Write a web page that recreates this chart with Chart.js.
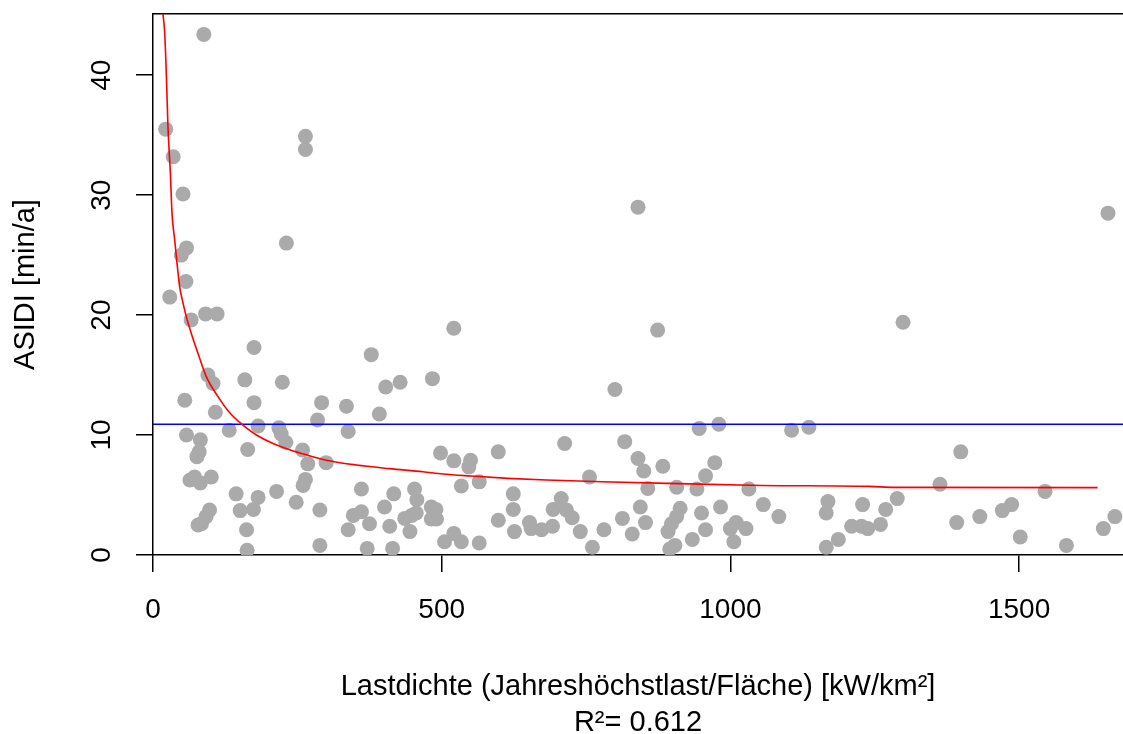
<!DOCTYPE html>
<html><head><meta charset="utf-8">
<script src="https://cdn.jsdelivr.net/npm/chart.js@4"></script>
<style>html,body{margin:0;padding:0;background:#fff;}canvas{display:block;}</style>
</head><body>
<canvas id="c" width="1123" height="734"></canvas>
<script>
// ---- data ----
const pointX = [88,22,35,264,264,52,231,58,49,57,840,1654,
  29,66,91,111,175,378,95,104,159,224,403,55,175,292,335,108,392,285,182,132,218,222,230,338,58,82,80,76,164,259,268,300,64,72,82,101,264,260,361,144,182,174,151,214,248,289,401,98,92,84,78,347,361,375,338,162,289,163,371,410,
  521,428,484,800,713,817,498,521,550,547,598,756,534,565,417,453,457,482,490,436,448,456,482,491,445,624,624,598,626,652,655,673,692,707,693,716,726,740,781,813,761,505,521,534,565,415,
  874,946,980,1106,1136,840,850,883,973,957,857,907,942,1032,844,853,830,913,907,898,892,904,895,950,957,934,983,1000,1010,1027,1006,1057,1084,1169,1166,1229,1166,1187,1210,1227,1238,
  1299,1399,1363,1545,1289,1269,1260,1392,1432,1471,1487,1502,1582,1646,1666];
const pointY = [43.4,35.5,33.2,34.9,33.8,30.1,26.0,25.6,25.0,22.8,29.0,28.5,
  21.5,19.6,20.1,20.1,17.3,16.7,15.0,14.3,14.6,14.4,14.0,12.9,12.7,12.7,12.4,11.9,11.75,11.25,10.75,10.4,10.6,10.1,9.4,10.3,10.0,9.6,8.6,8.2,8.8,8.75,7.6,7.7,6.25,6.5,6.0,6.5,6.3,5.8,5.5,5.1,4.8,3.8,3.7,5.3,4.4,3.75,4.0,3.75,3.2,2.6,2.5,3.3,3.6,2.6,2.1,2.1,0.8,0.4,0.55,2.4,
  18.9,14.4,14.7,13.8,9.3,9.45,8.5,7.85,7.9,7.35,8.6,6.5,5.75,6.1,5.1,5.5,4.6,4.0,3.8,3.05,3.3,3.5,3.0,3.0,1.95,5.1,3.8,2.9,1.95,2.7,2.2,2.1,2.4,4.7,3.8,3.75,3.1,1.95,2.1,3.05,0.65,1.1,1.8,1.1,1.0,0.55,
  18.75,10.55,10.9,10.4,10.65,8.05,7.0,7.4,7.7,6.6,5.55,5.65,5.5,5.5,4.0,2.7,1.75,3.9,3.2,2.6,1.95,0.8,0.5,3.5,2.1,1.3,4.0,2.2,2.7,2.2,1.1,4.2,3.2,4.45,3.5,4.2,0.65,1.3,2.4,2.4,2.2,
  19.4,8.6,5.9,5.3,4.7,3.8,2.55,2.7,3.2,3.7,4.2,1.5,0.8,2.2,3.2];
const fitX = [17.3,20.3,23.2,26.0,30.1,32.9,37.6,42.3,46.2,50.9,57.8,66.5,78,92.5,112.6,132.9,150.2,179,207.9,236.8,265.7,300.4,352.3,410,467.7,502.3,551.5,615,681.4,776.7,892,1054,1241,1284,1636];
const fitY = [45.1,43.5,39.9,35.6,31.8,28.5,26.25,24.0,22.35,21.25,19.85,18.45,16.8,14.85,13.2,11.85,11.05,10.0,9.3,8.78,8.35,7.9,7.5,7.2,6.94,6.75,6.58,6.39,6.25,6.11,5.97,5.8,5.72,5.64,5.62];
const meanX = [0, 1680];
const meanY = [10.9, 10.9];
const xTicks = [0, 500, 1000, 1500];
const yTicks = [0, 10, 20, 30, 40];
const xRange = [0, 1680];
const yRange = [0, 45.1];
const xTitle = ['Lastdichte (Jahreshöchstlast/Fläche) [kW/km²]', 'R²= 0.612'];
const yTitle = 'ASIDI [min/a]';

const FONT = '"Liberation Sans", Arial, sans-serif';
const toPts = (xs, ys) => xs.map((x, i) => ({x: x, y: ys[i]}));

const yTickLabels = {
  id: 'yTickLabels',
  afterDraw(chart) {
    const s = chart.scales.y, ctx = chart.ctx;
    ctx.save();
    ctx.font = '28px ' + FONT;
    ctx.fillStyle = '#000';
    ctx.textAlign = 'center';
    ctx.textBaseline = 'alphabetic';
    yTicks.forEach(v => {
      const py = s.getPixelForValue(v);
      ctx.save();
      ctx.translate(110, py);
      ctx.rotate(-Math.PI / 2);
      ctx.fillText(String(v), 0, 0);
      ctx.restore();
    });
    ctx.restore();
  }
};

new Chart(document.getElementById('c'), {
  type: 'scatter',
  data: {
    datasets: [
      {data: toPts(fitX, fitY), showLine: true, borderColor: '#ff0000', borderWidth: 1.6, pointRadius: 0, cubicInterpolationMode: 'monotone', clip: 0, order: 0},
      {data: toPts(meanX, meanY), showLine: true, borderColor: '#0000ff', borderWidth: 1.6, pointRadius: 0, clip: 0, order: 0},
      {data: toPts(pointX, pointY), backgroundColor: '#aaaaaa', borderWidth: 0, pointRadius: 7.5, pointStyle: 'circle', clip: 0, order: 1}
    ]
  },
  options: {
    responsive: false,
    animation: false,
    devicePixelRatio: 1,
    layout: {autoPadding: false, padding: {top: 14, left: 0, right: 0, bottom: 0}},
    plugins: {legend: {display: false}, tooltip: {enabled: false}},
    scales: {
      x: {
        type: 'linear', position: 'bottom', min: xRange[0], max: xRange[1],
        afterBuildTicks: s => { s.ticks = xTicks.map(v => ({value: v})); },
        afterFit: s => { s.height = 179; s.paddingLeft = 0; s.paddingRight = 0; },
        grid: {display: true, drawOnChartArea: false, drawTicks: true, tickLength: 17, color: '#000', lineWidth: 1.5},
        border: {display: true, color: '#000', width: 1.5},
        ticks: {color: '#000', font: {family: FONT, size: 28}, padding: 21, maxRotation: 0, autoSkip: false, callback: v => String(v)},
        title: {display: true, text: xTitle, color: '#000', font: {family: FONT, size: 29, lineHeight: 1.24}, padding: {top: 0, bottom: -7}}
      },
      x2: {
        type: 'linear', position: 'top', min: 0, max: 1,
        afterFit: s => { s.height = 0; },
        grid: {display: false, drawOnChartArea: false, drawTicks: false},
        border: {display: true, color: '#000', width: 1.5},
        ticks: {display: false}
      },
      y: {
        type: 'linear', position: 'left', min: yRange[0], max: yRange[1],
        afterBuildTicks: s => { s.ticks = yTicks.map(v => ({value: v})); },
        afterFit: s => { s.width = 153; s.paddingTop = 0; s.paddingBottom = 0; },
        grid: {display: true, drawOnChartArea: false, drawTicks: true, tickLength: 17, color: '#000', lineWidth: 1.5},
        border: {display: true, color: '#000', width: 1.5},
        ticks: {display: false},
        title: {display: true, text: yTitle, color: '#000', font: {family: FONT, size: 29}, padding: {top: 9, bottom: 0}}
      }
    }
  },
  plugins: [yTickLabels]
});
</script>
</body></html>
